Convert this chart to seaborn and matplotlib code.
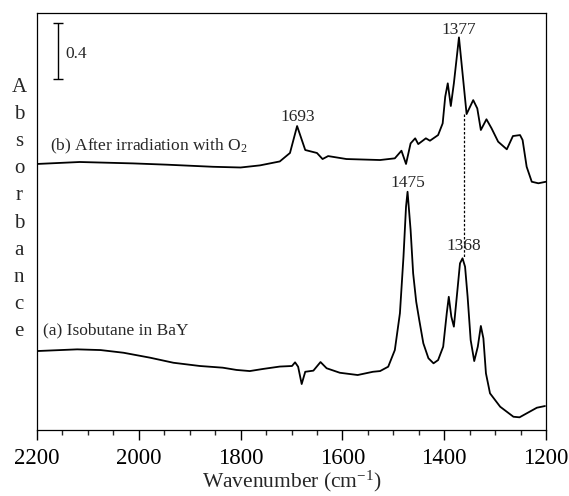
import numpy as np
import pandas as pd
import matplotlib
matplotlib.use("Agg")
import matplotlib.pyplot as plt
import seaborn as sns

# espectro (a): isobutano en BaY
wn_a = [2200, 2121, 2075, 2030, 1978, 1932, 1880, 1835, 1808, 1782, 1756, 1723,
        1699, 1693, 1687, 1680, 1673, 1657, 1643, 1631, 1605, 1570, 1540, 1526,
        1510, 1497, 1487, 1480, 1475, 1472, 1466, 1461, 1455, 1449, 1441, 1431,
        1421, 1412, 1402, 1395, 1391, 1386, 1381, 1374, 1369, 1364, 1359, 1354,
        1348, 1341, 1334, 1328, 1323, 1318, 1310, 1290, 1264, 1252, 1238, 1218, 1202]
abs_a = [0.560, 0.572, 0.567, 0.548, 0.513, 0.477, 0.454, 0.442, 0.426, 0.418, 0.433, 0.450,
         0.454, 0.480, 0.449, 0.326, 0.413, 0.421, 0.482, 0.438, 0.406, 0.390, 0.413, 0.418,
         0.449, 0.567, 0.828, 1.229, 1.584, 1.690, 1.418, 1.111, 0.910, 0.780, 0.615, 0.509,
         0.473, 0.496, 0.591, 0.828, 0.945, 0.804, 0.733, 0.993, 1.182, 1.218, 1.158, 0.945,
         0.638, 0.489, 0.591, 0.738, 0.650, 0.402, 0.260, 0.165, 0.094, 0.090, 0.118, 0.158, 0.170]

# espectro (b): tras irradiar con O2
wn_b = [2200, 2116, 2011, 1945, 1854, 1800, 1762, 1723, 1703, 1689, 1673, 1650, 1639, 1628,
        1592, 1526, 1497, 1484, 1475, 1466, 1457, 1451, 1436, 1428, 1412, 1403, 1398,
        1393, 1387, 1381, 1371, 1362, 1356, 1343, 1335, 1328, 1317, 1307, 1294, 1277,
        1265, 1251, 1246, 1238, 1228, 1215, 1200]
abs_b = [1.887, 1.901, 1.891, 1.882, 1.867, 1.862, 1.877, 1.905, 1.965, 2.156, 1.986, 1.965, 1.922, 1.943,
         1.922, 1.915, 1.927, 1.981, 1.887, 2.033, 2.069, 2.028, 2.069, 2.052, 2.092, 2.175, 2.364,
         2.459, 2.298, 2.459, 2.785, 2.459, 2.241, 2.340, 2.281, 2.128, 2.204, 2.140, 2.045, 1.991,
         2.085, 2.092, 2.057, 1.867, 1.761, 1.750, 1.761]

# etiquetas de picos: (texto, x, y base)
picos = [("1693", 1688, 2.194), ("1377", 1371, 2.806),
         ("1475", 1471, 1.726), ("1368", 1361, 1.277)]

datos = pd.concat([
    pd.DataFrame({'wn': wn_a, 'A': abs_a, 'serie': 'a'}),
    pd.DataFrame({'wn': wn_b, 'A': abs_b, 'serie': 'b'}),
])

sns.set_style("ticks")
plt.rcParams['font.family'] = ['Liberation Serif', 'DejaVu Serif']
plt.rcParams['mathtext.fontset'] = 'custom'
plt.rcParams['mathtext.rm'] = 'Liberation Serif'
plt.rcParams['mathtext.it'] = 'Liberation Serif:italic'
plt.rcParams['mathtext.bf'] = 'Liberation Serif:bold'

fig, ax = plt.subplots(figsize=(5.69, 4.96), dpi=100)
fig.subplots_adjust(left=37/569, right=546/569, bottom=1-430/496, top=1-12.7/496)

sns.lineplot(data=datos, x='wn', y='A', units='serie', estimator=None,
             color='black', lw=1.3, ax=ax)

ax.set_xlim(2200, 1200)
ax.set_ylim(0, 2.96)
ax.set_yticks([])
ax.set_ylabel('')
ax.set_xticks([2200, 2000, 1800, 1600, 1400, 1200])
ax.set_xticks(np.arange(1200, 2201, 50), minor=True)
ax.tick_params(axis='x', which='major', direction='out', length=7, width=1,
               labelsize=16.5, pad=6, colors='black')
ax.tick_params(axis='x', which='minor', direction='out', length=3.5, width=1)
for s in ax.spines.values():
    s.set_visible(True)
    s.set_color('black')
    s.set_linewidth(0.9)
ax.set_xlabel('Wavenumber (cm$^{-1}$)', fontsize=15.5, labelpad=0)

# barra de escala 0.4
ax.errorbar(2158, 2.689, yerr=0.2, color='black', capsize=3.3, lw=1, capthick=1)
ax.text(2145, 2.67, '0.4', fontsize=12.5, va='center', ha='left')

# línea punteada entre picos
ax.plot([1362, 1362], [2.24, 1.22], ls=(0, (2, 1.5)), color='black', lw=0.9)

for txt, x, y in picos:
    ax.text(x, y, txt, fontsize=12.5, ha='center', va='baseline')

ax.text(2174, 1.986, '(b) After irradiation with O$_2$', fontsize=12.5, va='baseline')
ax.text(2188, 0.679, '(a) Isobutane in BaY', fontsize=12.5, va='baseline')

# etiqueta vertical letra a letra
for i, ch in enumerate("Absorbance"):
    fig.text(19/569, 1 - (92 + 27.1*i)/496, ch, fontsize=15, ha='center', va='baseline')

plt.savefig('out.png', dpi=100)
